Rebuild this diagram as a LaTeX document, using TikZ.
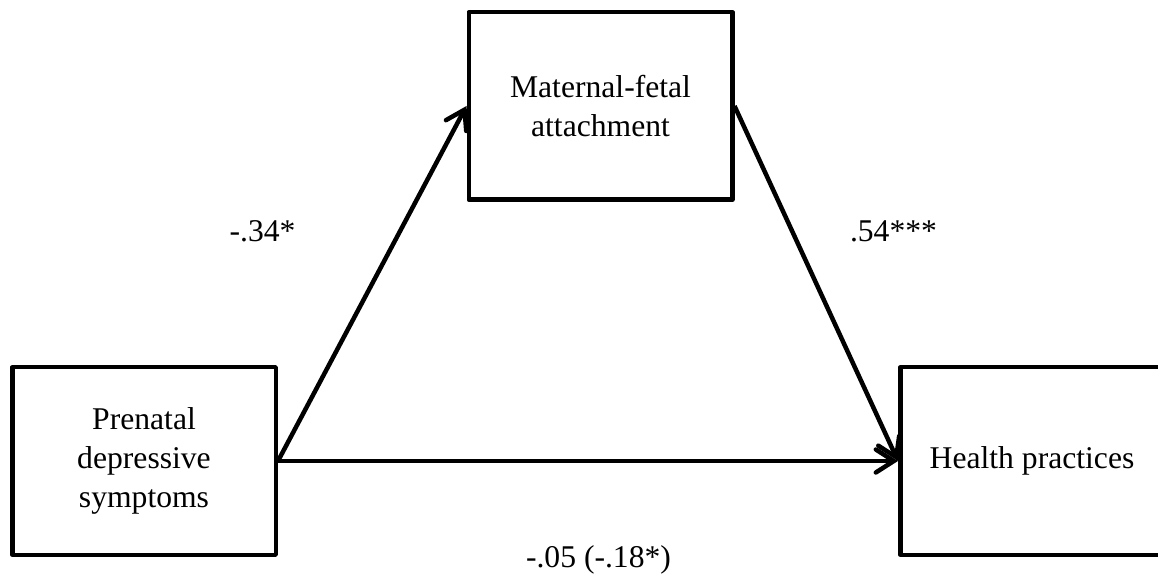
\documentclass[tikz,border=0pt]{standalone}
\usepackage{fontspec}
\setmainfont{Liberation Serif}
\usetikzlibrary{arrows.meta}

\begin{document}
\begin{tikzpicture}[
    varbox/.style={draw, line width=0.09cm, line join=round, minimum width=5.27cm, minimum height=3.75cm, align=center, font=\fontsize{18}{22}\selectfont},
    effect/.style={line width=0.09cm, -{Straight Barb[length=0.36cm, width=0.46cm, line cap=round]}},
    coef/.style={anchor=base, font=\fontsize{18}{22}\selectfont}
]
    \useasboundingbox (0,0) rectangle (23.16,11.46);

    % The three variables
    \node[varbox] (predictor) at (2.88,2.24) {Prenatal\\depressive\\symptoms};
    \node[varbox] (mediator) at (12.01,9.34) {Maternal-fetal\\attachment};
    \node[varbox] (outcome) at (20.64,2.24) {Health practices};

    % Paths
    \draw[effect] (predictor.east) -- (mediator.west);
    \draw[effect] (mediator.east) -- (outcome.west);
    \draw[effect] (predictor.east) -- (outcome.west);

    % Coefficients
    \node[coef] (apath) at (5.25,6.62) {-.34*};
    \node[coef] (bpath) at (17.87,6.62) {.54***};
    \node[coef] (cpath) at (11.97,0.12) {-.05 (-.18*)};
\end{tikzpicture}
\end{document}
